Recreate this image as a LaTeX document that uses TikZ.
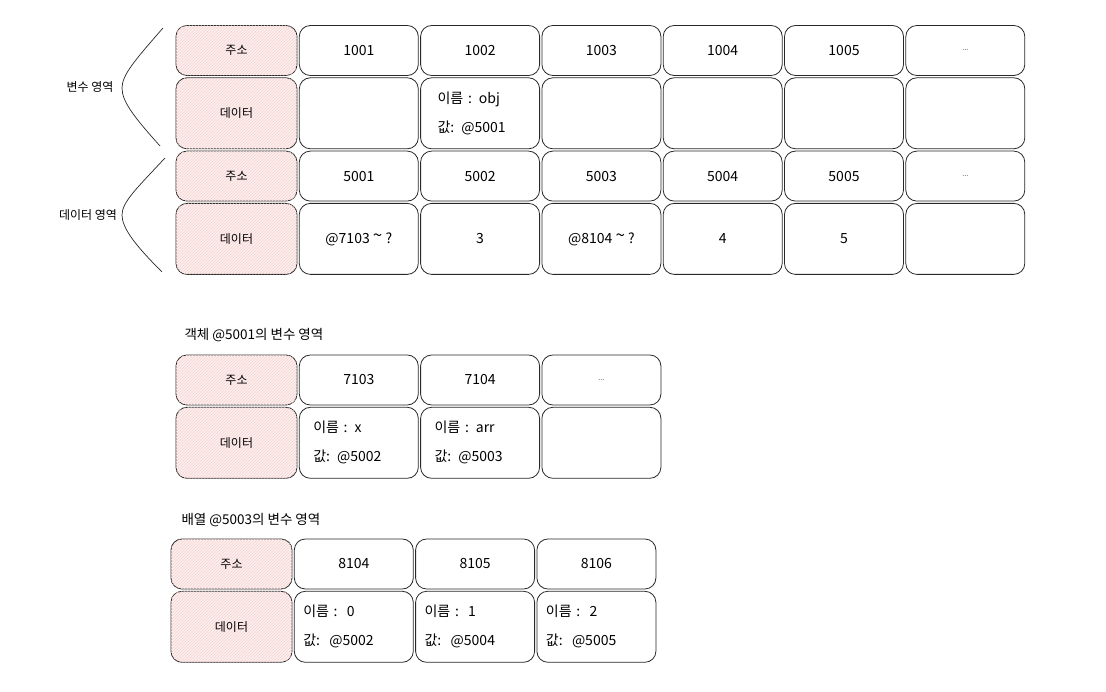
\documentclass[tikz,border=0pt]{standalone}
\usepackage{fontspec}
\setmainfont{Noto Sans CJK KR}
\usetikzlibrary{positioning,patterns}
\definecolor{ink}{RGB}{40,40,40}
\definecolor{pinkbg}{RGB}{253,240,240}
\definecolor{hatch}{RGB}{248,210,210}
\newcommand{\approxto}{\raisebox{2pt}{\fontsize{17}{17}\selectfont\textasciitilde}}

\begin{document}
\begin{tikzpicture}[x=1pt, y=-1pt, node distance=1.5pt,
	box/.style={draw=ink, line width=0.8pt, rounded corners=11pt, minimum width=119pt, inner sep=0pt, font=\fontsize{14}{16}\selectfont},
	head/.style={box, minimum width=121pt, fill=pinkbg, postaction={pattern=north east lines, pattern color=hatch}, font=\fontsize{12}{14}\selectfont},
	addr/.style={minimum height=50pt},
	mem/.style={minimum height=71pt},
	named/.style={box, mem, align=left, text width=91pt, inner xsep=14pt, font=\fontsize{14}{16}\selectfont},
	brace/.style={draw=ink, line width=0.7pt},
	label/.style={font=\fontsize{12}{14}\selectfont}]
		\useasboundingbox (0,0) rectangle (1106,692);
		
		% variable area and data area
		\node[head, addr] (vaddr) at (236.5,50.5) {주소};
		\node[head, mem, below = of vaddr] (vdata) {데이터};
		\node[head, addr, below = of vdata] (daddr) {주소};
		\node[head, mem, below = of daddr] (ddata) {데이터};
		
		\node[box, addr, right = of vaddr] (v1) {1001};
		\node[box, addr, right = of v1] (v2) {1002};
		\node[box, addr, right = of v2] (v3) {1003};
		\node[box, addr, right = of v3] (v4) {1004};
		\node[box, addr, right = of v4] (v5) {1005};
		\node[box, addr, right = of v5] (v6) {\fontsize{7}{8}\selectfont ...};
		
		\node[box, mem, below = of v1] (vd1) {};
		\node[named, inner xsep=17pt, text width=85pt, below = of v2] (vd2) {이름 : obj\\[13pt]값: @5001};
		\node[box, mem, below = of v3] (vd3) {};
		\node[box, mem, below = of v4] (vd4) {};
		\node[box, mem, below = of v5] (vd5) {};
		\node[box, mem, below = of v6] (vd6) {};
		
		\node[box, addr, below = of vd1] (d1) {5001};
		\node[box, addr, below = of vd2] (d2) {5002};
		\node[box, addr, below = of vd3] (d3) {5003};
		\node[box, addr, below = of vd4] (d4) {5004};
		\node[box, addr, below = of vd5] (d5) {5005};
		\node[box, addr, below = of vd6] (d6) {\fontsize{7}{8}\selectfont ...};
		
		\node[box, mem, below = of d1] (dd1) {@7103 \approxto{} ?};
		\node[box, mem, below = of d2] (dd2) {3};
		\node[box, mem, below = of d3] (dd3) {@8104 \approxto{} ?};
		\node[box, mem, below = of d4] (dd4) {4};
		\node[box, mem, below = of d5] (dd5) {5};
		\node[box, mem, below = of d6] (dd6) {};
		
		\node[label] (vlabel) at (90,87) {변수 영역};
		\node[label] (dlabel) at (88,215) {데이터 영역};
		\draw[brace] (163,28) .. controls (135,60) and (122,75) .. (122,88) .. controls (122,102) and (135,118) .. (160,146);
		\draw[brace] (165,158) .. controls (137,188) and (122,202) .. (122,215) .. controls (122,228) and (135,245) .. (162,272);
		
		% object @5001
		\node[label, font=\fontsize{13.5}{15}\selectfont, anchor=west] (otitle) at (181,335) {객체 @5001의 변수 영역};
		\node[head, addr] (oaddr) at (236.5,380) {주소};
		\node[head, mem, below = of oaddr] (odata) {데이터};
		\node[box, addr, right = of oaddr] (o1) {7103};
		\node[box, addr, right = of o1] (o2) {7104};
		\node[box, addr, right = of o2] (o3) {\fontsize{7}{8}\selectfont ...};
		\node[named, below = of o1] (od1) {이름 : x\\[13pt]값: @5002};
		\node[named, below = of o2] (od2) {이름 : arr\\[13pt]값: @5003};
		\node[box, mem, below = of o3] (od3) {};
		
		% array @5003
		\node[label, font=\fontsize{13.5}{15}\selectfont, anchor=west] (atitle) at (178,520) {배열 @5003의 변수 영역};
		\node[head, addr] (aaddr) at (231.5,564) {주소};
		\node[head, mem, below = of aaddr] (adata) {데이터};
		\node[box, addr, right = of aaddr] (a1) {8104};
		\node[box, addr, right = of a1] (a2) {8105};
		\node[box, addr, right = of a2] (a3) {8106};
		\node[named, inner xsep=9pt, text width=101pt, below = of a1] (ad1) {이름 :~~0\\[13pt]값:~~@5002};
		\node[named, inner xsep=9pt, text width=101pt, below = of a2] (ad2) {이름 :~~1\\[13pt]값:~~@5004};
		\node[named, inner xsep=9pt, text width=101pt, below = of a3] (ad3) {이름 :~~2\\[13pt]값:~~@5005};
		
	\end{tikzpicture}
\end{document}
